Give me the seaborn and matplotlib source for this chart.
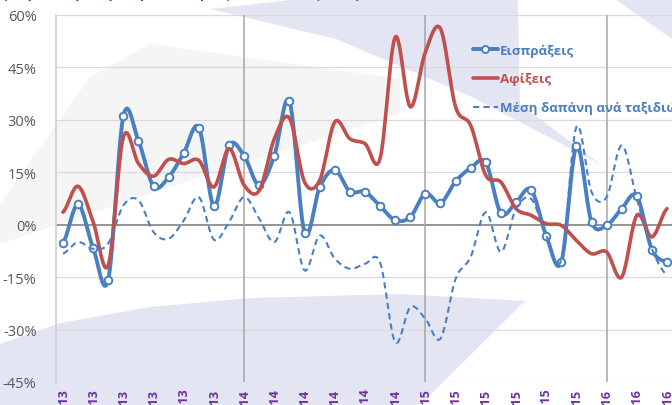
import numpy as np
import pandas as pd
import seaborn as sns
import matplotlib.pyplot as plt
from matplotlib.lines import Line2D
from matplotlib.patches import Polygon

# data: year-on-year change (%), monthly Jan 2013 - May 2016
receipts = [-5.2, 5.8, -6.7, -15.7, 31.1, 24.0, 11.0, 13.6, 20.5, 27.8, 5.3, 22.7, 19.7, 11.3,
            19.8, 35.3, -2.3, 10.7, 15.7, 9.5, 9.4, 5.3, 1.3, 2.2, 8.9, 6.2, 12.4, 16.2, 17.8,
            3.3, 6.4, 10.0, -3.1, -10.7, 22.4, 0.8, -0.2, 4.6, 8.2, -7.1, -10.7]
arrivals = [3.6, 11.0, 0.8, -11.6, 25.1, 17.5, 13.9, 18.7, 17.5, 18.4, 10.8, 21.8, 11.3, 9.8,
            24.6, 30.5, 12.2, 12.7, 29.4, 24.6, 23.2, 18.9, 53.7, 33.7, 49.4, 56.1, 33.7, 28.4,
            14.1, 12.2, 4.6, 2.7, 0.3, -0.2, -4.5, -8.3, -7.8, -15.0, 2.7, -3.5, 4.6]
spending = [-8.3, -5.0, -6.9, -5.4, 5.5, 7.0, -2.1, -4.0, 1.2, 7.9, -4.3, 0.8, 7.9, 1.7, -5.0,
            3.6, -13.1, -3.1, -9.7, -12.6, -11.2, -10.8, -33.6, -23.6, -26.9, -32.6, -15.5, -9.2,
            3.6, -7.8, 4.5, 7.4, -3.0, -10.0, 28.0, 9.4, 7.9, 22.7, 7.4, -6.9, -14.5]
series_names = ["Εισπράξεις", "Αφίξεις", "Μέση δαπάνη ανά ταξιδιώτη"]
months = ["Ιαν", "Φεβ", "Μαρ", "Απρ", "Μαϊ", "Ιουν", "Ιουλ", "Αυγ", "Σεπ", "Οκτ", "Νοε", "Δεκ"]
years = ["13", "14", "15", "16"]
y_ticks = [-45, -30, -15, 0, 15, 30, 45, 60]

n = len(receipts)
month_labels = [f"{months[i % 12]}-{years[i // 12]}" for i in range(n)]

BLUE = "#4a7fc1"
RED = "#c0504d"
PURPLE = "#7030a0"


def smooth(vals, steps=12):
    # Excel-like smoothed line (Catmull-Rom through the points)
    y = np.asarray(vals, dtype=float)
    p = np.concatenate([[y[0]], y, [y[-1]]])
    xs, ys = [], []
    t = np.linspace(0, 1, steps, endpoint=False)
    for i in range(len(y) - 1):
        p0, p1, p2, p3 = p[i], p[i + 1], p[i + 2], p[i + 3]
        c1 = p1 + (p2 - p0) / 6
        c2 = p2 - (p3 - p1) / 6
        seg = (1 - t) ** 3 * p1 + 3 * (1 - t) ** 2 * t * c1 + 3 * (1 - t) * t ** 2 * c2 + t ** 3 * p2
        xs.extend(i + t)
        ys.extend(seg)
    xs.append(len(y) - 1)
    ys.append(y[-1])
    return pd.DataFrame({"x": xs, "y": ys})


sns.set_theme(style="white")
plt.rcParams["font.family"] = ["Open Sans", "DejaVu Sans"]

fig = plt.figure(figsize=(6.72, 4.06), dpi=100)
W, H = 672, 406
ax = fig.add_axes([56 / W, 1 - 383 / H, 1 - 56 / W, (383 - 16) / H])
ax.set_facecolor("none")


# faint watermark shapes behind the chart
def px(pts):
    return [(x / W, 1 - y / H) for x, y in pts]


lav = "#e4e5f3"
shapes = [
    (px([(0, 345), (60, 324), (150, 308), (250, 299), (400, 295), (525, 302), (420, 406), (0, 406)]), lav),
    (px([(210, 10), (300, 0), (518, 0), (520, 105), (600, 165), (470, 97), (336, 40)]), lav),
    (px([(615, 0), (672, 0), (672, 40)]), lav),
    (px([(0, 205), (0, 245), (180, 185), (400, 115), (400, 80), (150, 45), (90, 78)]), "#f5f5f5"),
]
for pts, col in shapes:
    fig.add_artist(Polygon(pts, closed=True, facecolor=col, edgecolor="none", zorder=-1,
                           transform=fig.transFigure))

# grid
for v in y_ticks:
    if v == 0:
        ax.axhline(v, color="#8c8c8c", lw=1.3, zorder=1)
    else:
        ax.axhline(v, color="#dadada", lw=0.9, zorder=1)
for k in range(12, n, 12):
    ax.axvline(k, color="#a6a6a6", lw=1.1, zorder=1)

sns.lineplot(data=smooth(receipts), x="x", y="y", ax=ax, color=BLUE, lw=2.8, zorder=3,
             sort=False)
sns.scatterplot(x=np.arange(n), y=receipts, ax=ax, marker="o", s=30, facecolor="white",
                edgecolor=BLUE, linewidth=1.4, zorder=4)
sns.lineplot(data=smooth(arrivals), x="x", y="y", ax=ax, color=RED, lw=2.6, zorder=5,
             sort=False)
sns.lineplot(data=smooth(spending), x="x", y="y", ax=ax, color=BLUE, lw=1.5, zorder=6,
             sort=False, linestyle=(0, (3, 2)))

ax.set_xlim(-0.46, 40.33)
ax.set_ylim(-45, 60)
ax.set_yticks(y_ticks)
ax.set_yticklabels([f"{v}%" for v in y_ticks], color="#595959", fontsize=10.5)
ax.set_xticks(range(0, n, 2))
ax.set_xticklabels(month_labels[::2], rotation=90, color=PURPLE, fontsize=9, fontweight="bold")
ax.tick_params(axis="both", length=0)
ax.tick_params(axis="y", pad=14)
ax.tick_params(axis="x", pad=4)
ax.set_xlabel("")
ax.set_ylabel("")
for s in ["top", "right", "bottom"]:
    ax.spines[s].set_visible(False)
ax.spines["left"].set_color("#d0d0d0")

handles = [
    Line2D([], [], color=BLUE, lw=2.8, marker="o", markersize=5, markerfacecolor="white",
           markeredgecolor=BLUE, markeredgewidth=1.4),
    Line2D([], [], color=RED, lw=2.6),
    Line2D([], [], color=BLUE, lw=1.5, linestyle=(0, (3, 2))),
]
leg = fig.legend(handles, series_names, loc="upper left", bbox_to_anchor=(466 / W, 1 - 38 / H),
                 frameon=False, borderpad=0, handlelength=1.9, handletextpad=0.15,
                 labelspacing=1.2, prop={"size": 9.5, "weight": "bold"})
for txt, col in zip(leg.get_texts(), [BLUE, RED, BLUE]):
    txt.set_color(col)

fig.text(0.005, 1 + 1.5 / H, "(ετήσια % μεταβολή, Ιανουάριος 2013 - Μάιος 2016)",
         color=PURPLE, fontsize=10, fontweight="bold", va="baseline", ha="left")

fig.savefig("out.png", dpi=100)
